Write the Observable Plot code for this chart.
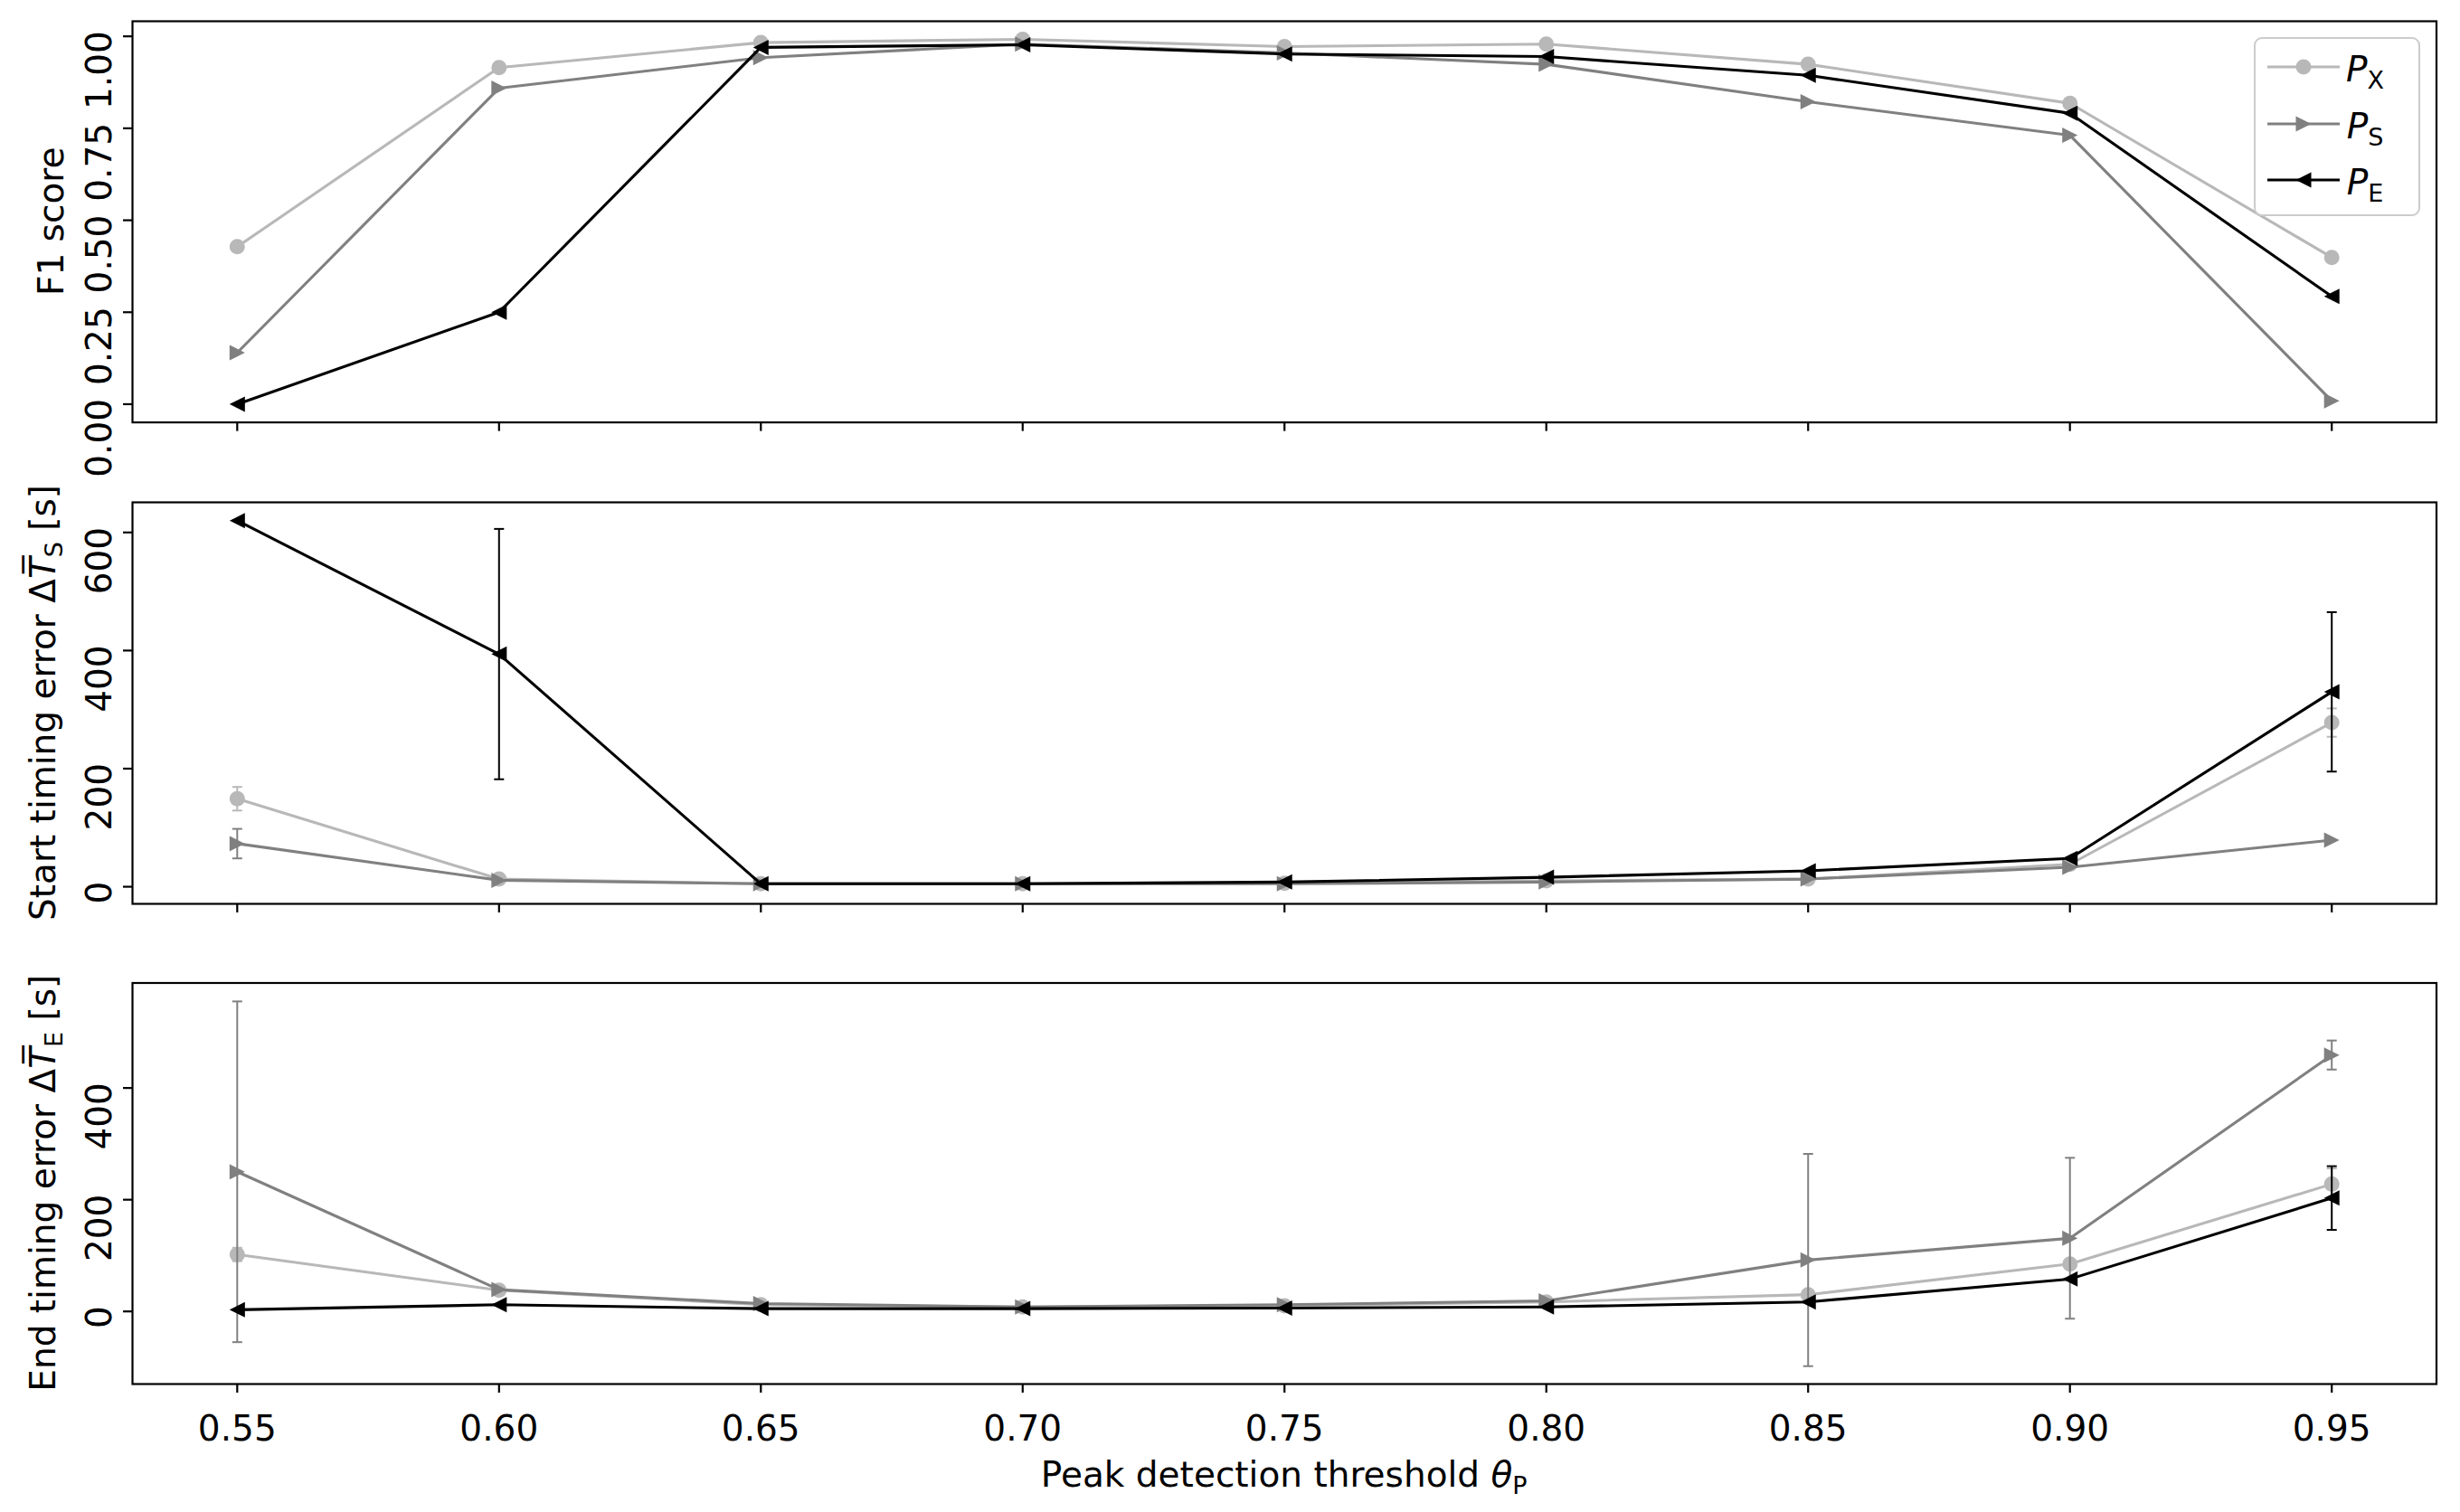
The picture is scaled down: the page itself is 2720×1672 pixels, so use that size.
<!DOCTYPE html>
<html><head><meta charset="utf-8">
<script src="https://cdn.jsdelivr.net/npm/d3@7"></script>
<script src="https://cdn.jsdelivr.net/npm/@observablehq/plot@0.6"></script>
<style>
html,body{margin:0;padding:0;background:#fff;}
#wrap{position:relative;width:2720px;height:1672px;overflow:hidden;background:#fff;}
.panel{position:absolute;left:0;}
.panel svg{max-width:none;}
g[aria-label="x-axis tick"], g[aria-label="y-axis tick"]{stroke-width:2.2px;}
</style></head>
<body><div id="wrap"><div class="panel" id="p1" style="top:0px"></div><div class="panel" id="p2" style="top:535px"></div><div class="panel" id="p3" style="top:1040px"></div></div>
<script>
// ---- data ----
const thresholds = [0.55, 0.60, 0.65, 0.70, 0.75, 0.80, 0.85, 0.90, 0.95];
const xTickLabels = ["0.55", "0.60", "0.65", "0.70", "0.75", "0.80", "0.85", "0.90", "0.95"];
const seriesKeys = ["PX", "PS", "PE"];
const seriesSub = ["X", "S", "E"];

// F1 score
const f1PX = [0.428, 0.915, 0.983, 0.992, 0.972, 0.979, 0.924, 0.818, 0.399];
const f1PS = [0.140, 0.859, 0.942, 0.979, 0.955, 0.924, 0.822, 0.731, 0.009];
const f1PE = [0.000, 0.250, 0.970, 0.977, 0.952, 0.945, 0.894, 0.791, 0.293];
const f1Ticks = [0, 0.25, 0.5, 0.75, 1.0];

// Start timing error [s] and its error bars
const startPX = [149, 13, 5, 5, 6, 10, 13, 38, 278];
const startPXerr = [20, 0, 0, 0, 0, 0, 0, 0, 24];
const startPS = [73, 11, 5, 5, 5, 8, 13, 33, 79];
const startPSerr = [25, 0, 0, 0, 0, 0, 0, 0, 0];
const startPE = [620, 394, 5, 5, 8, 16, 27, 48, 330];
const startPEerr = [0, 212, 0, 0, 0, 0, 0, 0, 135];
const startTicks = [0, 200, 400, 600];

// End timing error [s] and its error bars
const endPX = [102, 38, 12, 8, 10, 17, 30, 85, 228];
const endPXerr = [12, 0, 0, 0, 0, 0, 0, 0, 28];
const endPS = [250, 39, 14, 8, 12, 19, 92, 131, 459];
const endPSerr = [305, 0, 0, 0, 0, 0, 190, 144, 26];
const endPE = [3, 12, 5, 5, 6, 8, 17, 58, 203];
const endPEerr = [0, 0, 0, 0, 0, 0, 0, 0, 57];
const endTicks = [0, 200, 400];

// ---- styling ----
const COLORS = {PX: "#b8b8b8", PS: "#808080", PE: "#000000"};
const FONT = "DejaVu Sans";
const FS = 39;
const LW = 3.1;
const half = size => Math.sqrt(size / Math.PI);
const triRight = {draw(ctx, size) { const h = half(size); ctx.moveTo(h, 0); ctx.lineTo(-h, -h); ctx.lineTo(-h, h); ctx.closePath(); }};
const triLeft = {draw(ctx, size) { const h = half(size); ctx.moveTo(-h, 0); ctx.lineTo(h, -h); ctx.lineTo(h, h); ctx.closePath(); }};
const capLine = {draw(ctx, size) { const h = half(size); ctx.moveTo(-h, 0); ctx.lineTo(h, 0); }};
const SYMBOLS = {PX: d3.symbolCircle, PS: triRight, PE: triLeft};

function rows(key, vals, errs) {
  return thresholds.map((t, i) => ({t, v: vals[i], e: errs ? errs[i] : 0, s: key}));
}

function seriesMarks(data, key) {
  const eb = data.filter(d => d.e > 0);
  const c = COLORS[key];
  return [
    Plot.ruleX(eb, {x: "t", y1: d => d.v - d.e, y2: d => d.v + d.e, stroke: c, strokeWidth: 2}),
    Plot.dot(eb, {x: "t", y: d => d.v + d.e, symbol: capLine, r: 5.5, stroke: c, strokeWidth: 2, fill: "none"}),
    Plot.dot(eb, {x: "t", y: d => d.v - d.e, symbol: capLine, r: 5.5, stroke: c, strokeWidth: 2, fill: "none"}),
    Plot.line(data, {x: "t", y: "v", stroke: c, strokeWidth: LW}),
    Plot.dot(data, {x: "t", y: "v", symbol: SYMBOLS[key], r: 8.5, fill: c, stroke: "none"})
  ];
}

const W = 2720, ML = 146, MR = W - 2693.5;

function makePanel({height, marginTop, marginBottom, yDomain, yTicks, yFormat, series, showX}) {
  return Plot.plot({
    width: W, height, marginLeft: ML, marginRight: MR, marginTop, marginBottom,
    style: {fontFamily: FONT, fontSize: FS + "px", background: "transparent", color: "black", overflow: "visible"},
    x: {domain: [0.53, 0.97], ticks: thresholds, tickSize: 10, tickPadding: 25, label: null,
        tickFormat: showX ? (d => xTickLabels[thresholds.findIndex(t => Math.abs(t - d) < 1e-9)]) : (() => "")},
    y: {domain: yDomain, ticks: yTicks, tickSize: 10, tickPadding: 14, tickRotate: -90, label: null, tickFormat: yFormat},
    marks: [
      ...series.flatMap(([key, data]) => seriesMarks(data, key)),
      Plot.frame({stroke: "black", strokeWidth: 2.2})
    ]
  });
}

// panel 1: axes 23..466.6 ; panel 2: axes 555..999 ; panel 3: axes 1086.5..1530 (page pixels)
const p1 = makePanel({
  height: 535, marginTop: 23, marginBottom: 68.4,
  yDomain: [-0.0495, 1.041], yTicks: f1Ticks, yFormat: d3.format(".2f"),
  series: [["PX", rows("PX", f1PX)], ["PS", rows("PS", f1PS)], ["PE", rows("PE", f1PE)]], showX: false
});
const p2 = makePanel({
  height: 505, marginTop: 20, marginBottom: 41,
  yDomain: [-29, 651], yTicks: startTicks, yFormat: d3.format("d"),
  series: [["PX", rows("PX", startPX, startPXerr)], ["PS", rows("PS", startPS, startPSerr)], ["PE", rows("PE", startPE, startPEerr)]], showX: false
});
const p3 = makePanel({
  height: 632, marginTop: 46.5, marginBottom: 142,
  yDomain: [-130, 588], yTicks: endTicks, yFormat: d3.format("d"),
  series: [["PX", rows("PX", endPX, endPXerr)], ["PS", rows("PS", endPS, endPSerr)], ["PE", rows("PE", endPE, endPEerr)]], showX: true
});
document.getElementById("p1").appendChild(p1);
document.getElementById("p2").appendChild(p2);
document.getElementById("p3").appendChild(p3);

// rotated y tick labels: end of the string sits just above the tick (as in the reference)
for (const svg of [p1, p2, p3]) {
  d3.select(svg).selectAll('g[aria-label="y-axis tick label"] text').each(function () {
    const el = d3.select(this);
    el.attr("text-anchor", "end").attr("transform", "translate(0,-6) " + (el.attr("transform") || ""));
  });
}

// ---- rich-text labels ----
function richText(svg, x, y, rotate, parts) {
  const t = d3.select(svg).append("text")
    .attr("transform", `translate(${x},${y})` + (rotate ? ` rotate(${rotate})` : ""))
    .attr("text-anchor", "middle").attr("font-family", FONT).attr("font-size", FS).attr("fill", "black");
  let shift = 0;
  for (const p of parts) {
    const ts = t.append("tspan").text(p.text);
    if (p.italic) ts.attr("font-style", "italic");
    const target = p.sub ? 8 : 0;
    if (target !== shift) { ts.attr("dy", target - shift); shift = target; }
    if (p.sub) ts.attr("font-size", 27);
  }
  return t;
}

richText(p1, 70, (23 + 466.6) / 2, -90, [{text: "F1 score"}]);
richText(p2, 61, (20 + 464) / 2, -90, [
  {text: "Start timing error Δ"}, {text: "T\u0305", italic: true}, {text: "S", sub: true}, {text: " [s]"}
]);
richText(p3, 61, (46.5 + 490) / 2, -90, [
  {text: "End timing error Δ"}, {text: "T\u0305", italic: true}, {text: "E", sub: true}, {text: " [s]"}
]);
richText(p3, (ML + 2693.5) / 2, 604, 0, [
  {text: "Peak detection threshold "}, {text: "θ", italic: true}, {text: "P", sub: true}
]);

// ---- legend ----
const lg = d3.select(p1).append("g").attr("aria-label", "legend");
lg.append("rect").attr("x", 2493).attr("y", 42).attr("width", 182).attr("height", 196).attr("rx", 8)
  .attr("fill", "white").attr("fill-opacity", 0.8).attr("stroke", "#cccccc").attr("stroke-width", 2);
const rowY = [74, 137, 199];
seriesKeys.forEach((key, i) => {
  const y = rowY[i], c = COLORS[key];
  lg.append("line").attr("x1", 2507).attr("x2", 2587).attr("y1", y).attr("y2", y).attr("stroke", c).attr("stroke-width", LW);
  lg.append("path").attr("transform", `translate(2547,${y})`)
    .attr("d", d3.symbol(SYMBOLS[key], Math.PI * 8.5 * 8.5)()).attr("fill", c);
  const t = lg.append("text").attr("x", 2615).attr("y", y + 16).attr("font-family", FONT).attr("font-size", FS).attr("fill", "black");
  t.append("tspan").attr("font-style", "italic").text("P");
  t.append("tspan").attr("font-size", 27).attr("dy", 8).text(seriesSub[i]);
});
</script>
</body></html>
